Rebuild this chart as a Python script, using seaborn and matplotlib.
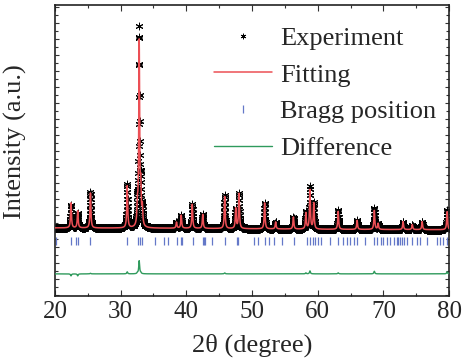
import numpy as np
import pandas as pd
import matplotlib
matplotlib.use("Agg")
import matplotlib.pyplot as plt
from matplotlib.lines import Line2D
from matplotlib.ticker import MultipleLocator
import seaborn as sns

peak_pos = [22.44, 23.46, 25.40, 31.00, 32.55, 32.82, 33.06, 33.30, 38.50, 39.22,
            40.90, 42.50, 45.84, 47.52, 48.02, 51.92, 53.60, 56.30, 58.20, 58.82,
            59.40, 63.12, 66.00, 68.62, 69.20, 73.00, 74.40, 75.90, 79.70]
fit_height = [1250, 850, 1750, 2100, 900, 9200, 1700, 900, 300, 650,
              1200, 700, 1600, 1000, 1750, 1300, 350, 600, 800, 1950,
              1300, 900, 450, 950, 300, 400, 250, 400, 900]
obs_height = [1150, 750, 1780, 2200, 950, 9850, 1750, 900, 300, 650,
              1200, 700, 1650, 1000, 1750, 1300, 350, 600, 850, 2100,
              1300, 950, 450, 1080, 300, 400, 250, 400, 1000]
peak_fwhm = 0.16

# background level at a few angles
bg_pos = [20, 40, 60, 80]
bg_level = [150, 130, 80, 60]

# Bragg reflections (2theta)
bragg_pos = [20.15, 22.44, 23.20, 23.55, 25.40, 31.00, 32.70, 32.95, 33.25, 35.30,
             36.60, 37.15, 38.60, 39.20, 39.35, 40.95, 42.50, 42.70, 42.90, 43.95,
             45.90, 47.70, 47.90, 50.30, 50.95, 51.95, 52.60, 53.40, 54.60, 56.45,
             58.30, 58.90, 59.25, 59.60, 60.00, 60.50, 61.90, 63.15, 63.90, 64.40,
             64.90, 65.60, 65.95, 67.20, 68.60, 69.00, 69.60, 70.00, 70.60, 71.00,
             71.65, 72.00, 72.30, 72.55, 72.80, 73.15, 73.55, 74.30, 75.05, 75.60,
             76.60, 78.10, 78.60, 79.10, 79.65]

two_theta = np.round(np.arange(20, 80.001, 0.02), 2)
background = np.interp(two_theta, bg_pos, bg_level)


def profile(heights):
    y = background.copy()
    hw = peak_fwhm / 2
    for p, h in zip(peak_pos, heights):
        y = y + h / (1 + ((two_theta - p) / hw) ** 2)
    return y


df = pd.DataFrame({"two_theta": two_theta,
                   "obs": profile(obs_height),
                   "calc": profile(fit_height)})
df["diff"] = df["obs"] - df["calc"] - 2150
bragg = pd.DataFrame({"two_theta": bragg_pos, "y": -500})

sns.set_style("ticks")
plt.rcParams["font.family"] = ["Liberation Serif", "DejaVu Serif"]

fig = plt.figure(figsize=(4.62, 3.63), dpi=100)
ax = fig.add_axes([0.119, 0.185, 0.853, 0.801])

red = "#ec4f55"
green = "#2f9a5c"
blue = "#6478c8"
asterisk = (6, 2, 0)

sns.scatterplot(data=df, x="two_theta", y="obs", marker=asterisk, s=24,
                color="black", edgecolor="black", linewidth=0.7, ax=ax,
                legend=False, zorder=2)
sns.lineplot(data=df, x="two_theta", y="calc", color=red, lw=1.1,
             estimator=None, ax=ax, zorder=3)
sns.scatterplot(data=bragg, x="two_theta", y="y", marker="|", s=40,
                color=blue, linewidth=0.9, ax=ax, legend=False, zorder=2)
sns.lineplot(data=df, x="two_theta", y="diff", color=green, lw=1.0,
             estimator=None, ax=ax, zorder=3)

ax.set_xlim(20, 80)
ax.set_ylim(-3250, 11300)
ax.xaxis.set_major_locator(MultipleLocator(10))
ax.xaxis.set_minor_locator(MultipleLocator(5))
ax.yaxis.set_major_locator(MultipleLocator(800))
ax.yaxis.set_minor_locator(MultipleLocator(400))
ax.tick_params(which="both", direction="in", top=True, right=True,
               labelsize=18, width=0.8, color="#333333")
ax.tick_params(which="major", length=4)
ax.tick_params(which="minor", length=2)
ax.tick_params(axis="y", which="major", length=3)
ax.tick_params(axis="x", which="major", pad=4)
ax.set_yticklabels([])
for sp in ax.spines.values():
    sp.set_linewidth(1.2)
    sp.set_color("#222222")

ax.set_xlabel("2θ (degree)", fontsize=19, labelpad=7)
ax.set_ylabel("Intensity (a.u.)", fontsize=19)
ax.yaxis.set_label_coords(-0.07, 0.53)

handles = [
    Line2D([], [], ls="none", marker=asterisk, color="black", markersize=4, mew=0.6),
    Line2D([], [], color=red, lw=1.1),
    Line2D([], [], ls="none", marker="|", color=blue, markersize=6, mew=0.9),
    Line2D([], [], color=green, lw=1.0),
]
labels = ["Experiment", "Fitting", "Bragg position", "Difference"]
fig.legend(handles, labels, loc="upper left", bbox_to_anchor=(0.463, 0.927),
           frameon=False, fontsize=19, handlelength=2.2, handletextpad=0.3,
           labelspacing=0.5, borderpad=0, borderaxespad=0)

fig.savefig("out.png", dpi=100)
